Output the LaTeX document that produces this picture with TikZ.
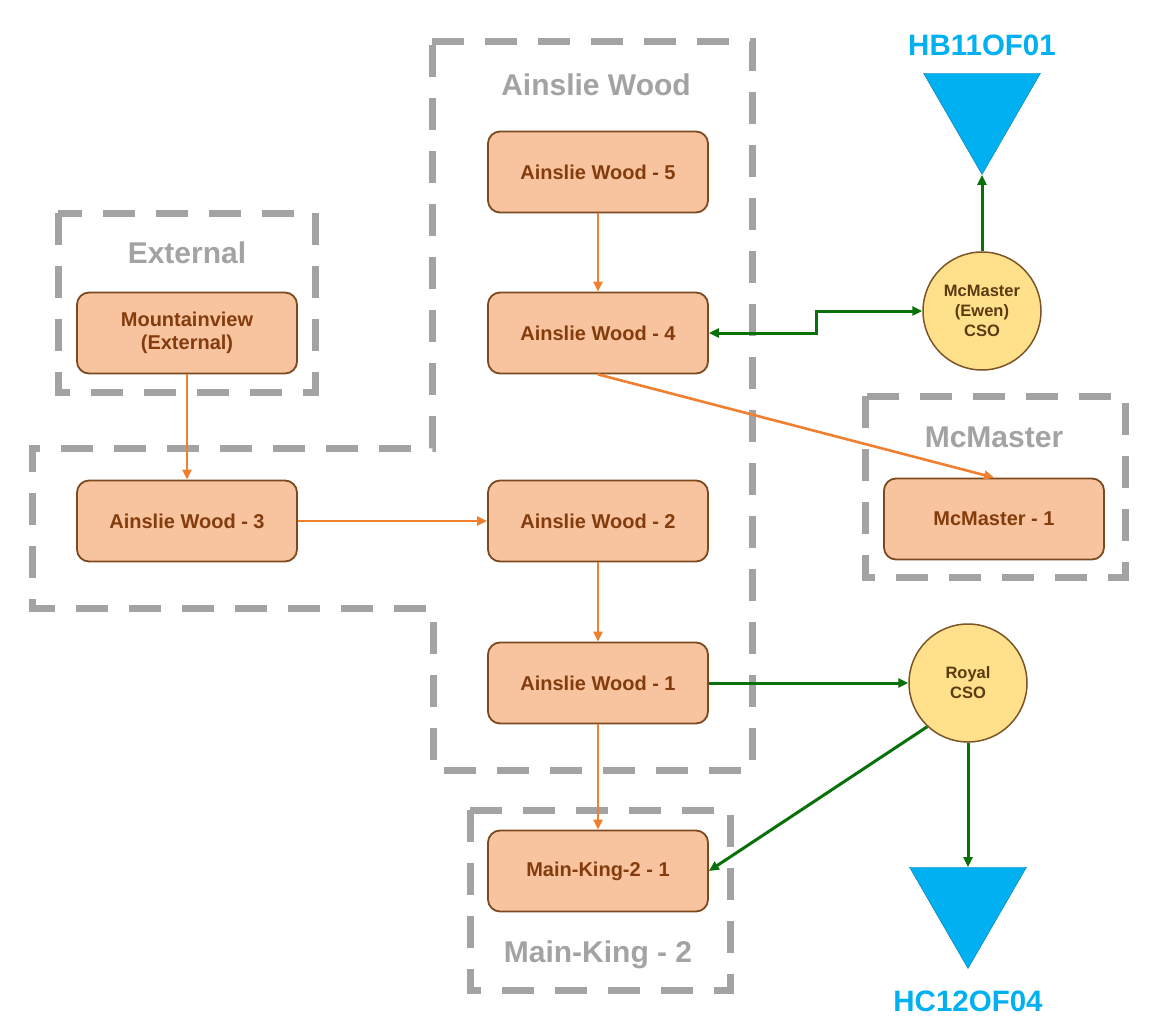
\documentclass[tikz,border=0pt]{standalone}
\usepackage{fontspec}
\setmainfont{Liberation Sans}
\usetikzlibrary{arrows.meta,shapes.geometric,calc}
\definecolor{boxfill}{HTML}{F8C4A0}
\definecolor{boxdraw}{HTML}{7B4A1E}
\definecolor{boxtext}{HTML}{843C0C}
\definecolor{csofill}{HTML}{FFE18C}
\definecolor{csodraw}{HTML}{7B5527}
\definecolor{csotext}{HTML}{5C3A12}
\definecolor{flowc}{HTML}{F08030}
\definecolor{gflowc}{HTML}{0A700A}
\definecolor{outfallc}{HTML}{00B0F0}
\definecolor{grpc}{HTML}{A3A3A3}
\begin{document}
\begin{tikzpicture}[x=1pt,y=-1pt,
  unit/.style={draw=boxdraw, fill=boxfill, line width=1.8pt, rounded corners=12pt,
    minimum width=220pt, minimum height=81pt, inner sep=0pt, text=boxtext,
    font=\bfseries\fontsize{20}{23}\selectfont, align=center},
  cso/.style={circle, draw=csodraw, fill=csofill, line width=1.5pt, minimum size=118pt,
    inner sep=0pt, text=csotext, font=\bfseries\fontsize{16.5}{20}\selectfont, align=center},
  outfall/.style={regular polygon, regular polygon sides=3, shape border rotate=180,
    fill=outfallc, draw=outfallc!70!black, line width=0.4pt, minimum size=135pt, inner sep=0pt},
  outlabel/.style={text=outfallc, font=\bfseries\fontsize{29.5}{32}\selectfont},
  grplabel/.style={text=grpc, font=\bfseries\fontsize{30}{33}\selectfont},
  grpbox/.style={draw=grpc, line width=7pt, dash pattern=on 32pt off 21pt},
  oflow/.style={draw=flowc, line width=2.6pt, -{Triangle[length=10pt,width=9pt]}},
  gflow/.style={draw=gflowc, line width=3pt, -{Triangle[length=10pt,width=9pt]}}
]
\useasboundingbox (0,0) rectangle (1176,1036);

% group outlines
\draw[grpbox] (432,41) -- (752,41) -- (752,770) -- (433,770) -- (433,608) -- (32,608) -- (32,448) -- (432,448) -- cycle;
\draw[grpbox] (58,213) rectangle (315,392);
\draw[grpbox] (865,396) rectangle (1125,577);
\draw[grpbox] (470,810) rectangle (730,990);

% group labels
\node[grplabel] (lext) at (187,253) {External};
\node[grplabel] (law) at (596,85) {Ainslie Wood};
\node[grplabel] (lmm) at (994,437) {McMaster};
\node[grplabel] (lmk) at (598,955) {Main-King - 2};

% units
\node[unit] (mv) at (187,333) {Mountainview\\(External)};
\node[unit] (aw3) at (187,521) {Ainslie Wood - 3};
\node[unit] (aw5) at (598,172) {Ainslie Wood - 5};
\node[unit] (aw4) at (598,333) {Ainslie Wood - 4};
\node[unit] (aw2) at (598,521) {Ainslie Wood - 2};
\node[unit] (aw1) at (598,683) {Ainslie Wood - 1};
\node[unit] (mk) at (598,871) {Main-King-2 - 1};
\node[unit] (mm1) at (994,519) {McMaster - 1};

% CSOs
\node[cso] (mcso) at (982,311) {McMaster\\(Ewen)\\CSO};
\node[cso] (royal) at (968,683) {Royal\\CSO};

% outfalls
\node[outfall] (tri1) at (982,107) {};
\node[outlabel] (hb) at (982,45) {HB11OF01};
\node[outfall] (tri2) at (968,901) {};
\node[outlabel] (hc) at (968,1001) {HC12OF04};

% orange flows
\draw[oflow] (aw5) -- (aw4);
\draw[oflow] (mv) -- (aw3);
\draw[oflow] (aw3) -- (aw2);
\draw[oflow] (aw2) -- (aw1);
\draw[oflow] (aw1) -- (mk);
\draw[oflow] (aw4.south) -- (mm1.north);

% green flows
\draw[gflow] (mcso) -- (tri1);
\draw[gflow, {Triangle[length=10pt,width=9pt]}-{Triangle[length=10pt,width=9pt]}] (aw4.east) -- ++(108,0) |- (mcso.west);
\draw[gflow] (aw1) -- (royal);
\draw[gflow] (royal.-133) -- (mk.east);
\draw[gflow] (royal) -- (tri2);
\end{tikzpicture}
\end{document}
